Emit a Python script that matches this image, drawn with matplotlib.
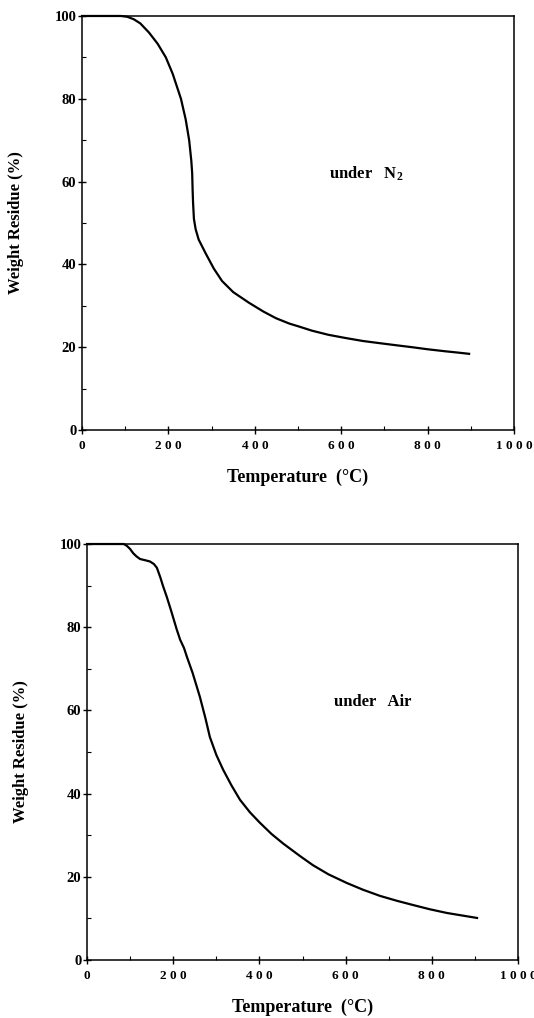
import numpy as np
import matplotlib.pyplot as plt
from matplotlib.ticker import MultipleLocator

# TGA curves
temp_n2 = [0, 90, 105, 120, 135, 155, 175, 194, 210, 229, 240, 248, 253, 255,
           256, 257, 259, 263, 270, 286, 305, 324, 350, 387, 420, 449, 480,
           502, 532, 570, 611, 650, 687, 725, 764, 800, 842, 870, 896]
wt_n2 = [100, 100, 99.8, 99.2, 98.2, 96, 93.3, 90, 86, 80, 75, 70, 65, 62,
         58, 55, 51, 48.5, 46, 42.7, 39, 36, 33.3, 30.7, 28.6, 27, 25.7,
         25, 24, 23, 22.2, 21.5, 21, 20.5, 20, 19.5, 19, 18.7, 18.4]

temp_air = [0, 85, 92, 100, 107, 115, 123, 135, 146, 155, 162, 170, 176, 185,
            195, 208, 216, 225, 232, 245, 262, 275, 285, 300, 316, 335, 355,
            378, 401, 428, 455, 494, 524, 560, 603, 640, 680, 720, 757, 795,
            835, 870, 905]
wt_air = [100, 100, 99.6, 98.8, 97.8, 97, 96.4, 96.1, 95.8, 95.2, 94.3, 92,
          90, 87.3, 84, 79.5, 77, 75, 72.8, 69, 63.2, 58, 53.6, 49.3, 45.7,
          42, 38.5, 35.5, 33, 30.3, 28, 25, 22.8, 20.6, 18.5, 16.9, 15.4,
          14.2, 13.2, 12.2, 11.3, 10.7, 10.1]

xticks = [0, 200, 400, 600, 800, 1000]
xtick_labels = ['0', '2 0 0', '4 0 0', '6 0 0', '8 0 0', '1 0 0 0']
yticks = [0, 20, 40, 60, 80, 100]

plt.rcParams['font.family'] = ['Liberation Serif', 'DejaVu Serif']
plt.rcParams['font.weight'] = 'bold'
plt.rcParams['mathtext.fontset'] = 'custom'
plt.rcParams['mathtext.rm'] = 'Liberation Serif:bold'
plt.rcParams['mathtext.it'] = 'Liberation Serif:bold'

fig = plt.figure(figsize=(5.34, 10.18), dpi=100)
ax1 = fig.add_axes([0.1536, 0.5776, 0.809, 0.4067])
ax2 = fig.add_axes([0.163, 0.057, 0.807, 0.4086])

panels = [(ax1, temp_n2, wt_n2, 'under   N$_2$'),
          (ax2, temp_air, wt_air, 'under   Air')]

for ax, t, w, txt in panels:
    ax.plot(t, w, color='black', lw=1.6, clip_on=False, solid_joinstyle='round')
    ax.set_xlim(0, 1000)
    ax.set_ylim(0, 100)
    ax.set_xticks(xticks)
    ax.set_xticklabels(xtick_labels)
    ax.set_yticks(yticks)
    ax.xaxis.set_minor_locator(MultipleLocator(100))
    ax.yaxis.set_minor_locator(MultipleLocator(10))
    ax.tick_params(which='major', direction='inout', length=6, width=1)
    ax.tick_params(which='minor', direction='in', length=3, width=0.8)
    ax.tick_params(axis='x', pad=4, labelsize=9.5)
    ax.tick_params(axis='y', pad=1, labelsize=10.5)
    for s in ax.spines.values():
        s.set_linewidth(1.1)
    ax.set_ylabel('Weight Residue (%)', fontsize=12, fontweight='bold', labelpad=22)
    ax.set_xlabel('Temperature  (°C)', fontsize=13, fontweight='bold', labelpad=12)
    ax.text(572, 62, txt, fontsize=12, fontweight='bold', va='center')

fig.savefig('out.png', dpi=100)
